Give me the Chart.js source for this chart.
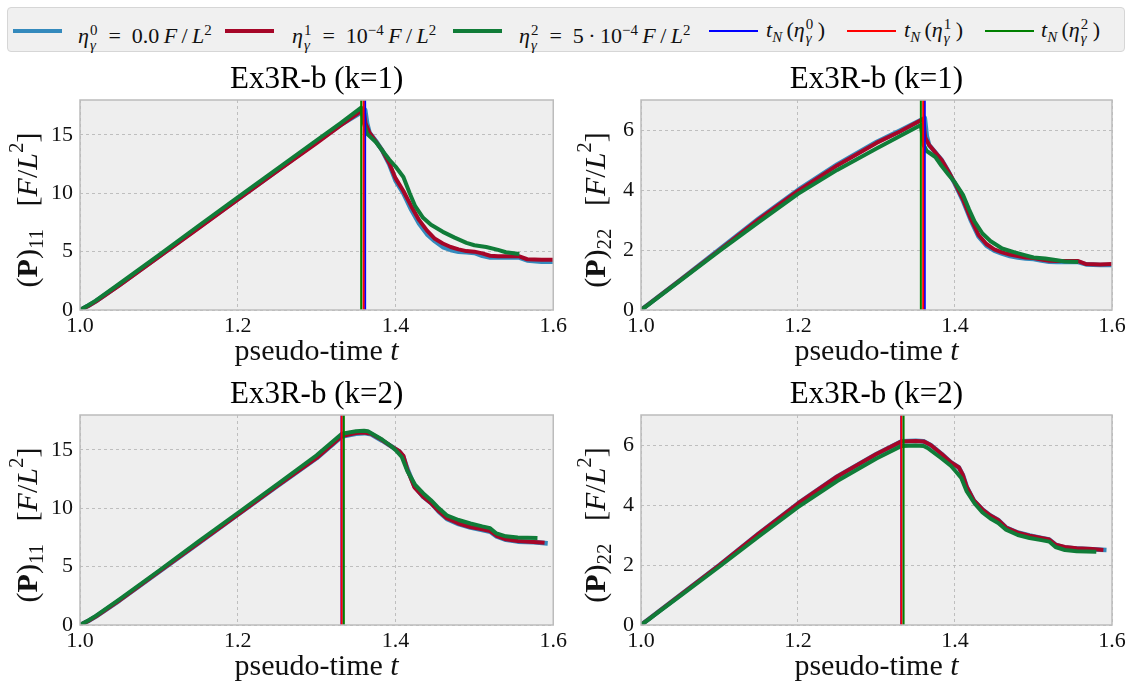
<!DOCTYPE html>
<html>
<head>
<meta charset="utf-8">
<script src="https://cdn.jsdelivr.net/npm/chart.js@4.4.1/dist/chart.umd.min.js"></script>
<style>
  body { margin: 0; width: 1132px; height: 687px; background: #fff; position: relative; overflow: hidden; font-family: "Liberation Serif", serif; }
  #legend { position: absolute; left: 7px; top: 7px; width: 1116px; height: 43px; background: #f0f0f0; border: 1px solid #d6d6d6; border-radius: 4px; }
  .sw { position: absolute; width: 49px; }
  .thick { top: 21px; height: 4px; }
  .thin { top: 22px; height: 2px; }
  .lt { position: absolute; top: 7px; font-size: 22px; line-height: 30px; white-space: nowrap; color: #111; }
  .ss { display: inline-block; vertical-align: -0.42em; font-size: 0.68em; line-height: 0.95em; margin-left: 1px; }
  .ss span { display: block; }
  .lt sup, .lt sub { font-size: 0.68em; }
  .box { position: absolute; }
</style>
</head>
<body>
<div id="legend">
  <div class="sw thick" style="left:5px;background:#348ABD"></div>
  <div class="lt" style="left:70px"><i>η</i><span class="ss"><span>0</span><span><i>γ</i></span></span>&ensp;=&ensp;0.0&thinsp;<i>F</i>&thinsp;/&thinsp;<i>L</i><sup>2</sup></div>
  <div class="sw thick" style="left:217px;background:#A60628"></div>
  <div class="lt" style="left:284px"><i>η</i><span class="ss"><span>1</span><span><i>γ</i></span></span>&ensp;=&ensp;10<sup>−4</sup>&thinsp;<i>F</i>&thinsp;/&thinsp;<i>L</i><sup>2</sup></div>
  <div class="sw thick" style="left:445px;background:#107C38"></div>
  <div class="lt" style="left:511px"><i>η</i><span class="ss"><span>2</span><span><i>γ</i></span></span>&ensp;=&ensp;5&thinsp;·&thinsp;10<sup>−4</sup>&thinsp;<i>F</i>&thinsp;/&thinsp;<i>L</i><sup>2</sup></div>
  <div class="sw thin" style="left:701px;background:#0000FF"></div>
  <div class="lt" style="left:758px"><i>t</i><sub><i>N</i></sub>&thinsp;(<i>η</i><span class="ss"><span>0</span><span><i>γ</i></span></span>&thinsp;)</div>
  <div class="sw thin" style="left:839px;background:#FF0000"></div>
  <div class="lt" style="left:896px"><i>t</i><sub><i>N</i></sub>&thinsp;(<i>η</i><span class="ss"><span>1</span><span><i>γ</i></span></span>&thinsp;)</div>
  <div class="sw thin" style="left:977px;background:#008000"></div>
  <div class="lt" style="left:1033px"><i>t</i><sub><i>N</i></sub>&thinsp;(<i>η</i><span class="ss"><span>2</span><span><i>γ</i></span></span>&thinsp;)</div>
</div>

<div class="box" style="left:0;top:58px"><canvas id="c11k1" width="570" height="312"></canvas></div>
<div class="box" style="left:566px;top:58px"><canvas id="c22k1" width="566" height="312"></canvas></div>
<div class="box" style="left:0;top:373px"><canvas id="c11k2" width="570" height="314"></canvas></div>
<div class="box" style="left:566px;top:373px"><canvas id="c22k2" width="566" height="314"></canvas></div>

<script>
// pseudo-time grids, one per (k, eta) run
const tK1Eta0 = [1.0, 1.01, 1.02, 1.05, 1.1, 1.15, 1.2, 1.25, 1.3, 1.33, 1.3615, 1.364, 1.367, 1.375, 1.383, 1.392, 1.4, 1.41, 1.42, 1.43, 1.44, 1.45, 1.46, 1.47, 1.48, 1.49, 1.5, 1.51, 1.52, 1.53, 1.54, 1.557, 1.567, 1.585, 1.6];
const tK1Eta1 = [1.0, 1.01, 1.02, 1.05, 1.1, 1.15, 1.2, 1.25, 1.3, 1.33, 1.3595, 1.362, 1.367, 1.375, 1.383, 1.392, 1.4, 1.41, 1.42, 1.43, 1.44, 1.45, 1.46, 1.47, 1.48, 1.49, 1.5, 1.51, 1.52, 1.53, 1.54, 1.557, 1.567, 1.585, 1.6];
const tK1Eta2 = [1.0, 1.01, 1.02, 1.05, 1.1, 1.15, 1.2, 1.25, 1.3, 1.33, 1.3565, 1.36, 1.364, 1.375, 1.383, 1.392, 1.4, 1.41, 1.418, 1.425, 1.435, 1.445, 1.46, 1.475, 1.49, 1.5, 1.515, 1.53, 1.54, 1.557];
const tK2Eta0 = [1.0, 1.01, 1.02, 1.05, 1.1, 1.15, 1.2, 1.25, 1.3, 1.332, 1.35, 1.36, 1.369, 1.383, 1.395, 1.405, 1.41, 1.415, 1.424, 1.435, 1.445, 1.455, 1.465, 1.48, 1.495, 1.51, 1.52, 1.528, 1.54, 1.555, 1.575, 1.593];
const tK2Eta1 = [1.0, 1.01, 1.02, 1.05, 1.1, 1.15, 1.2, 1.25, 1.3, 1.332, 1.35, 1.36, 1.369, 1.383, 1.395, 1.405, 1.41, 1.415, 1.424, 1.435, 1.445, 1.455, 1.465, 1.48, 1.495, 1.51, 1.52, 1.528, 1.54, 1.555, 1.575, 1.589];
const tK2Eta2 = [1.0, 1.01, 1.02, 1.05, 1.1, 1.15, 1.2, 1.25, 1.3, 1.332, 1.35, 1.36, 1.365, 1.383, 1.395, 1.40, 1.408, 1.415, 1.425, 1.435, 1.445, 1.455, 1.465, 1.48, 1.495, 1.51, 1.52, 1.528, 1.54, 1.555, 1.58];

// (P)11 values
const p11K1Eta0 = [0, 0.35, 0.75, 2.15, 4.6, 7.05, 9.5, 11.95, 14.4, 15.85, 17.15, 16.0, 15.2, 14.5, 13.7, 12.5, 11.1, 10.0, 8.6, 7.4, 6.5, 5.9, 5.4, 5.15, 5.0, 4.95, 4.9, 4.65, 4.5, 4.5, 4.5, 4.5, 4.25, 4.15, 4.15];
const p11K1Eta1 = [0, 0.33, 0.72, 2.12, 4.55, 7.0, 9.45, 11.9, 14.3, 15.8, 17.2, 16.0, 15.2, 14.45, 13.7, 12.6, 11.3, 10.2, 8.9, 7.7, 6.8, 6.1, 5.7, 5.4, 5.2, 5.05, 5.0, 4.85, 4.65, 4.6, 4.6, 4.6, 4.35, 4.3, 4.3];
const p11K1Eta2 = [0, 0.38, 0.8, 2.25, 4.7, 7.2, 9.65, 12.1, 14.55, 16.0, 17.35, 16.0, 15.1, 14.4, 13.7, 12.9, 12.3, 11.4, 10.0, 8.9, 7.9, 7.3, 6.7, 6.2, 5.75, 5.55, 5.4, 5.15, 4.95, 4.8];
const p11K2Eta0 = [0, 0.33, 0.72, 2.1, 4.55, 7.0, 9.45, 11.9, 14.3, 16.15, 16.4, 16.45, 16.35, 15.8, 15.3, 14.85, 14.4, 13.4, 11.9, 11.0, 10.45, 9.7, 9.1, 8.65, 8.35, 8.15, 8.0, 7.6, 7.3, 7.15, 7.1, 7.0];
const p11K2Eta1 = [0, 0.33, 0.72, 2.12, 4.57, 7.02, 9.47, 11.92, 14.32, 16.2, 16.45, 16.5, 16.4, 15.85, 15.3, 14.9, 14.5, 13.3, 11.8, 11.0, 10.45, 9.75, 9.15, 8.7, 8.4, 8.2, 8.05, 7.65, 7.35, 7.2, 7.12, 7.05];
const p11K2Eta2 = [0, 0.36, 0.78, 2.2, 4.65, 7.15, 9.6, 12.05, 14.55, 16.4, 16.6, 16.65, 16.6, 15.9, 15.3, 15.0, 14.4, 13.2, 12.0, 11.3, 10.7, 10.0, 9.4, 9.0, 8.7, 8.45, 8.3, 7.85, 7.6, 7.5, 7.45];

// (P)22 values
const p22K1Eta0 = [0, 0.2, 0.4, 1.0, 2.02, 3.05, 4.0, 4.85, 5.6, 5.98, 6.4, 5.8, 5.5, 5.25, 5.0, 4.6, 4.2, 3.65, 3.0, 2.45, 2.15, 1.98, 1.88, 1.8, 1.75, 1.72, 1.7, 1.65, 1.61, 1.6, 1.6, 1.6, 1.52, 1.5, 1.5];
const p22K1Eta1 = [0, 0.2, 0.4, 1.0, 2.0, 3.02, 3.97, 4.82, 5.57, 5.95, 6.37, 5.75, 5.5, 5.25, 5.0, 4.6, 4.22, 3.7, 3.05, 2.5, 2.2, 2.02, 1.92, 1.85, 1.8, 1.75, 1.73, 1.68, 1.64, 1.63, 1.63, 1.63, 1.53, 1.52, 1.53];
const p22K1Eta2 = [0, 0.19, 0.39, 0.98, 1.97, 2.93, 3.87, 4.67, 5.38, 5.8, 6.17, 5.5, 5.3, 5.1, 4.8, 4.5, 4.25, 3.85, 3.35, 2.95, 2.55, 2.3, 2.05, 1.93, 1.82, 1.75, 1.72, 1.66, 1.62, 1.6];
const p22K2Eta0 = [0, 0.2, 0.4, 1.0, 2.0, 3.05, 4.05, 4.95, 5.7, 6.12, 6.14, 6.12, 6.0, 5.7, 5.42, 5.25, 5.0, 4.6, 4.15, 3.85, 3.65, 3.5, 3.25, 3.08, 2.98, 2.9, 2.85, 2.68, 2.58, 2.55, 2.52, 2.5];
const p22K2Eta1 = [0, 0.2, 0.4, 1.0, 2.0, 3.05, 4.05, 4.95, 5.7, 6.12, 6.13, 6.12, 6.0, 5.7, 5.42, 5.25, 5.0, 4.6, 4.15, 3.85, 3.65, 3.5, 3.25, 3.08, 2.98, 2.9, 2.85, 2.68, 2.6, 2.56, 2.53, 2.5];
const p22K2Eta2 = [0, 0.19, 0.39, 0.97, 1.95, 2.95, 3.93, 4.8, 5.55, 5.97, 5.98, 5.97, 5.9, 5.55, 5.3, 5.15, 4.9, 4.45, 4.05, 3.75, 3.55, 3.4, 3.18, 3.0, 2.9, 2.83, 2.78, 2.6, 2.5, 2.46, 2.44];

// t_N for eta0, eta1, eta2
const tNK1 = [1.3615, 1.3595, 1.3565];
const tNK2 = [1.3315, 1.3317, 1.3345];

const xTicks = [1.0, 1.2, 1.4, 1.6];
const yTicksP11 = [0, 5, 10, 15];
const yTicksP22 = [0, 2, 4, 6];
const yMaxP11 = 18;
const yMaxP22 = 7;
const titles = ['Ex3R-b (k=1)', 'Ex3R-b (k=2)'];

const SERIF = '"Liberation Serif", "DejaVu Serif", serif';
const curveColors = ['#348ABD', '#A60628', '#107C38'];
const tNColors = ['#0000FF', '#FF0000', '#008000'];

function pts(t, v) {
  return t.map((x, i) => ({ x: x, y: v[i] }));
}

// draw a label made of styled pieces (italic, bold, sub/superscript)
function drawRich(ctx, segs, x, y, size, rotate) {
  const fontOf = s => (s.i ? 'italic ' : '') + (s.b ? 'bold ' : '') + Math.round(size * (s.k || 1)) + 'px ' + SERIF;
  let total = 0;
  segs.forEach(s => { ctx.font = fontOf(s); s.w = ctx.measureText(s.t).width; total += s.w; });
  ctx.save();
  ctx.translate(x, y);
  if (rotate) ctx.rotate(-Math.PI / 2);
  ctx.fillStyle = '#111';
  ctx.textBaseline = 'middle';
  ctx.textAlign = 'left';
  let cx = -total / 2;
  segs.forEach(s => {
    ctx.font = fontOf(s);
    ctx.fillText(s.t, cx, (s.dy || 0) * size);
    cx += s.w;
  });
  ctx.restore();
}

const framePlugin = {
  id: 'frame',
  beforeDraw(chart) {
    const a = chart.chartArea, ctx = chart.ctx;
    ctx.save();
    ctx.fillStyle = '#eeeeee';
    ctx.fillRect(a.left, a.top, a.right - a.left, a.bottom - a.top);
    ctx.restore();
  },
  afterDatasetsDraw(chart) {
    const a = chart.chartArea, ctx = chart.ctx;
    ctx.save();
    ctx.strokeStyle = '#bcbcbc';
    ctx.lineWidth = 1.5;
    ctx.strokeRect(a.left, a.top, a.right - a.left, a.bottom - a.top);
    ctx.restore();
  },
  afterDraw(chart, args, opts) {
    const a = chart.chartArea, ctx = chart.ctx;
    drawRich(ctx, [{ t: 'pseudo-time ' }, { t: 't', i: 1 }], (a.left + a.right) / 2, a.bottom + 42, 30, false);
    drawRich(ctx, opts.yLabel, opts.yLabelX, (a.top + a.bottom) / 2 + 5, 30, true);
  }
};

function yLabelFor(sub) {
  return [
    { t: '(' }, { t: 'P', b: 1 }, { t: ')' }, { t: sub, k: 0.7, dy: 0.28 },
    { t: '   [' }, { t: 'F', i: 1 }, { t: '/' }, { t: 'L', i: 1 }, { t: '2', k: 0.7, dy: -0.38 }, { t: ']' }
  ];
}

function makeChart(id, o) {
  const datasets = [];
  o.runs.forEach((r, i) => {
    datasets.push({
      data: pts(r[0], r[1]),
      borderColor: curveColors[i],
      borderWidth: i === 0 ? 4.6 : 4,
      order: 6 - i
    });
  });
  o.tN.forEach((tn, i) => {
    datasets.push({
      data: [{ x: tn, y: 0 }, { x: tn, y: o.yMax }],
      borderColor: tNColors[i],
      borderWidth: 2,
      order: 3 - i
    });
  });

  const gridOpts = { color: '#b2b2b2', lineWidth: 0.8, drawTicks: false };
  const tickFont = { family: SERIF, size: 22 };

  return new Chart(document.getElementById(id), {
    type: 'line',
    data: { datasets: datasets },
    options: {
      responsive: false,
      animation: false,
      devicePixelRatio: 1,
      layout: { padding: { left: 0, right: o.padRight, top: 0, bottom: 0 } },
      elements: {
        point: { radius: 0 },
        line: { tension: 0, fill: false, borderJoinStyle: 'round', borderCapStyle: 'butt' }
      },
      plugins: {
        legend: { display: false },
        tooltip: { enabled: false },
        title: {
          display: true, text: o.title, fullSize: false, color: '#000',
          font: { family: SERIF, size: 31, weight: 'normal' },
          padding: { top: 3, bottom: 1.8 }
        },
        frame: { yLabel: o.yLabel, yLabelX: o.yLabelX }
      },
      scales: {
        x: {
          type: 'linear', min: 1.0, max: 1.6,
          afterBuildTicks: s => { s.ticks = xTicks.map(v => ({ value: v })); },
          afterFit: s => { s.height = o.xHeight; },
          ticks: { callback: v => v.toFixed(1), font: tickFont, color: '#111', padding: 3, maxRotation: 0, autoSkip: false },
          grid: gridOpts,
          border: { display: false, dash: [3, 3] }
        },
        y: {
          type: 'linear', min: 0, max: o.yMax,
          afterBuildTicks: s => { s.ticks = o.yTicks.map(v => ({ value: v })); },
          afterFit: s => { s.width = o.yWidth; },
          ticks: { callback: v => String(v), font: tickFont, color: '#111', padding: 7 },
          grid: gridOpts,
          border: { display: false, dash: [3, 3] }
        }
      }
    },
    plugins: [framePlugin]
  });
}

makeChart('c11k1', {
  title: titles[0], yMax: yMaxP11, yTicks: yTicksP11, yLabel: yLabelFor('11'),
  runs: [[tK1Eta0, p11K1Eta0], [tK1Eta1, p11K1Eta1], [tK1Eta2, p11K1Eta2]], tN: tNK1,
  yWidth: 80, padRight: 16, xHeight: 60, yLabelX: 29
});
makeChart('c22k1', {
  title: titles[0], yMax: yMaxP22, yTicks: yTicksP22, yLabel: yLabelFor('22'),
  runs: [[tK1Eta0, p22K1Eta0], [tK1Eta1, p22K1Eta1], [tK1Eta2, p22K1Eta2]], tN: tNK1,
  yWidth: 75, padRight: 20, xHeight: 60, yLabelX: 31
});
makeChart('c11k2', {
  title: titles[1], yMax: yMaxP11, yTicks: yTicksP11, yLabel: yLabelFor('11'),
  runs: [[tK2Eta0, p11K2Eta0], [tK2Eta1, p11K2Eta1], [tK2Eta2, p11K2Eta2]], tN: tNK2,
  yWidth: 80, padRight: 16, xHeight: 62, yLabelX: 29
});
makeChart('c22k2', {
  title: titles[1], yMax: yMaxP22, yTicks: yTicksP22, yLabel: yLabelFor('22'),
  runs: [[tK2Eta0, p22K2Eta0], [tK2Eta1, p22K2Eta1], [tK2Eta2, p22K2Eta2]], tN: tNK2,
  yWidth: 75, padRight: 20, xHeight: 62, yLabelX: 31
});
</script>
</body>
</html>
